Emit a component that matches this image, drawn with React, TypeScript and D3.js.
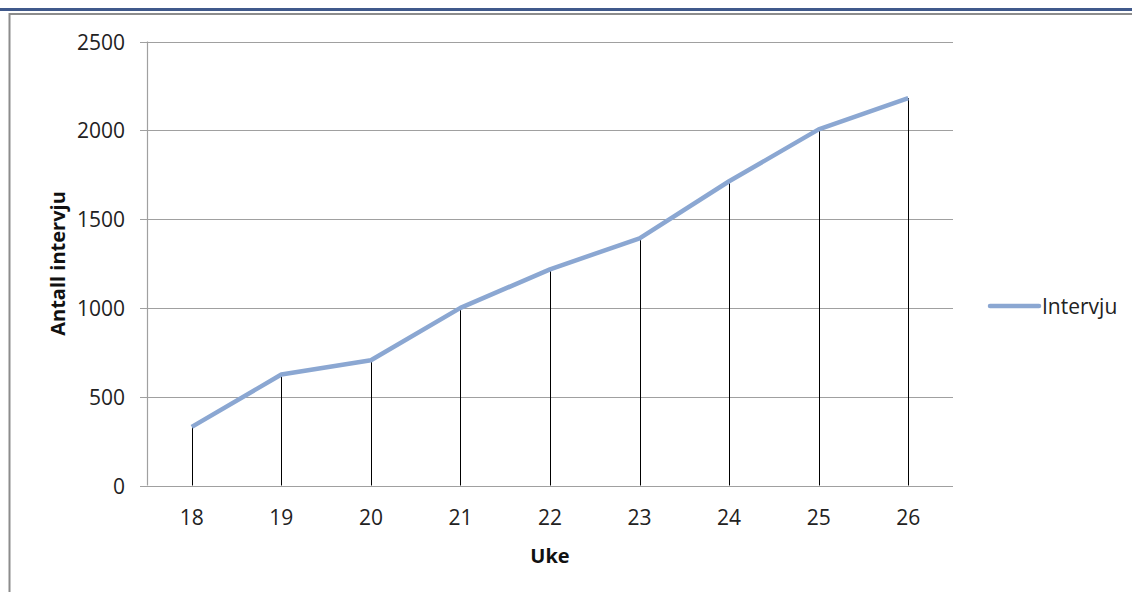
import React from "react";
import * as d3 from "d3";

const weeks: string[] = ["18", "19", "20", "21", "22", "23", "24", "25", "26"];
const interviews: number[] = [330, 625, 705, 1000, 1217, 1392, 1713, 2005, 2181];
const yTicks: number[] = [0, 500, 1000, 1500, 2000, 2500];
const seriesName = "Intervju";
const xTitle = "Uke";
const yTitle = "Antall intervju";

const W = 1132;
const H = 592;
const plot = { left: 147, right: 953, top: 41.5, bottom: 485.5 };
const FONT = "'Open Sans', 'Noto Sans', sans-serif";
const LINE_COLOR = "#8ba7d2";
const GRID = "#a0a0a0";

export default function App() {
  const x = d3
    .scaleBand<string>()
    .domain(weeks)
    .range([plot.left, plot.right])
    .paddingInner(0)
    .paddingOuter(0);
  const y = d3.scaleLinear().domain([0, 2500]).range([plot.bottom, plot.top]);
  const cx = (w: string) => (x(w) as number) + x.bandwidth() / 2;

  const line = d3
    .line<number>()
    .x((_, i) => cx(weeks[i]))
    .y((d) => y(d));

  return (
    <svg
      width={W}
      height={H}
      style={{ position: "absolute", left: 0, top: 0, background: "#fff" }}
      fontFamily={FONT}
    >
      {/* page header rules */}
      <rect x={0} y={8} width={W} height={3} fill="#40598b" />
      <line x1={9} y1={14} x2={W} y2={14} stroke="#8c8c8c" strokeWidth={2} />
      <line x1={9.5} y1={13} x2={9.5} y2={H} stroke="#8c8c8c" strokeWidth={2} />

      {/* gridlines */}
      {yTicks.map((t) => (
        <line
          key={"g" + t}
          x1={plot.left - 7}
          x2={plot.right}
          y1={Math.round(y(t)) + 0.5}
          y2={Math.round(y(t)) + 0.5}
          stroke={GRID}
          strokeWidth={1.2}
        />
      ))}
      {/* y axis */}
      <line
        x1={plot.left + 0.5}
        x2={plot.left + 0.5}
        y1={plot.top}
        y2={plot.bottom}
        stroke={GRID}
        strokeWidth={1.2}
      />
      {/* y tick labels */}
      {yTicks.map((t) => (
        <text
          key={"yl" + t}
          x={125}
          y={y(t)}
          textAnchor="end"
          dominantBaseline="central"
          fontSize={21}
          fill="#222"
        >
          {t}
        </text>
      ))}
      {/* x tick labels */}
      {weeks.map((w) => (
        <text
          key={"xl" + w}
          x={cx(w)}
          y={517}
          textAnchor="middle"
          dominantBaseline="central"
          fontSize={21}
          fill="#222"
        >
          {w}
        </text>
      ))}

      {/* drop lines */}
      {interviews.map((v, i) => (
        <line
          key={"d" + i}
          x1={Math.round(cx(weeks[i])) + 0.5}
          x2={Math.round(cx(weeks[i])) + 0.5}
          y1={y(v)}
          y2={plot.bottom}
          stroke="#000"
          strokeWidth={1}
        />
      ))}

      {/* series line */}
      <path
        d={line(interviews) || ""}
        fill="none"
        stroke={LINE_COLOR}
        strokeWidth={4.5}
        strokeLinejoin="round"
      />

      {/* axis titles */}
      <text
        x={550}
        y={555}
        textAnchor="middle"
        dominantBaseline="central"
        fontSize={20}
        fontWeight="bold"
        fill="#111"
      >
        {xTitle}
      </text>
      <text
        transform={`translate(57,${(plot.top + plot.bottom) / 2}) rotate(-90)`}
        textAnchor="middle"
        dominantBaseline="central"
        fontSize={20}
        fontWeight="bold"
        fill="#111"
      >
        {yTitle}
      </text>

      {/* legend */}
      <line x1={990} x2={1039} y1={306} y2={306} stroke={LINE_COLOR} strokeWidth={4.5} strokeLinecap="round" />
      <text x={1042} y={306} dominantBaseline="central" fontSize={21} fill="#222">
        {seriesName}
      </text>
    </svg>
  );
}
